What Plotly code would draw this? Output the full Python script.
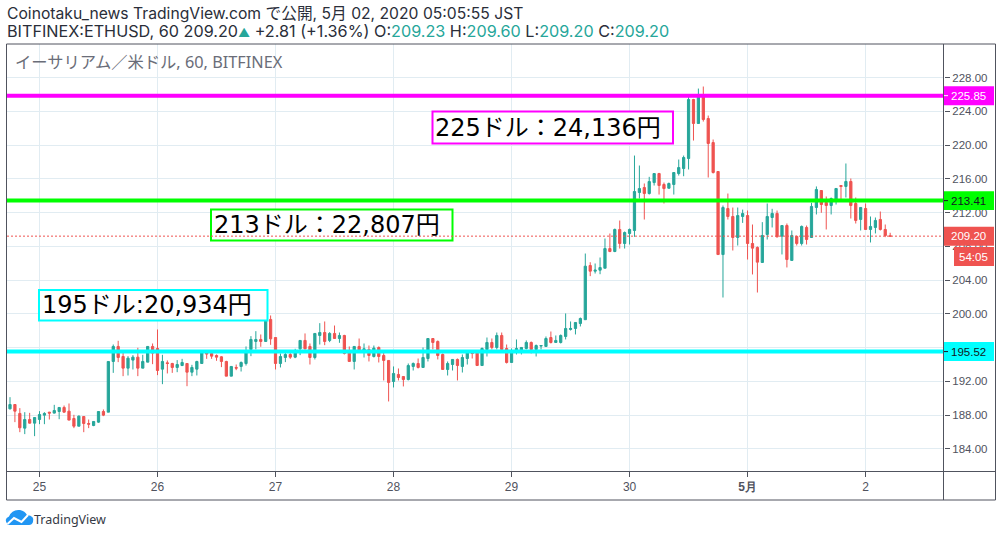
"""Hourly ETHUSD candles with three labelled price levels, TradingView snapshot style."""

import pandas as pd
import plotly.graph_objects as go

W, H = 1002, 537
LEFT, RIGHT, TOP, BOTTOM = 7, 944, 44, 471

opens = [
    188.74, 189.25, 188.19, 186.45, 187.47, 187.04,
    187.47, 187.99, 188.34, 188.23, 188.42, 188.9, 188.46, 187.59, 186.68, 187.83,
    187.0, 186.76, 187.16, 188.42, 188.34, 194.35, 196.13, 194.94, 193.56, 194.51,
    194.86, 193.56, 194.27, 196.13, 195.89, 193.44, 194.19, 194.11, 193.64, 193.87,
    194.11, 193.08, 193.44, 194.11, 195.41, 195.3, 195.06, 194.9, 194.35, 192.61,
    193.64, 193.76, 194.11, 195.77, 196.72, 196.96, 196.72, 199.33, 197.19, 194.11,
    194.82, 195.18, 194.86, 195.85, 196.84, 196.13, 194.82, 197.43, 197.78, 196.84,
    197.67, 197.07, 197.43, 195.53, 194.35, 196.13, 195.53, 195.77, 194.94, 196.01,
    195.06, 194.47, 191.98, 192.81, 192.57, 192.21, 193.76, 194.11, 193.64, 194.7,
    197.07, 196.72, 195.18, 193.4, 193.99, 194.59, 193.76, 194.7, 195.41, 195.41,
    193.87, 195.77, 196.6, 196.01, 197.43, 195.89, 194.23, 195.65, 195.53, 195.89,
    196.6, 195.77, 196.17, 196.13, 197.19, 196.6, 196.6, 197.31, 198.14, 198.26,
    198.85, 199.3, 205.72, 205.05, 205.17, 205.4, 207.73, 207.38, 209.99, 208.33,
    209.51, 209.87, 214.37, 214.96, 214.25, 215.55, 216.62, 215.32, 214.88, 215.32,
    216.62, 217.21, 218.4, 225.39, 222.55, 225.86, 223.14, 220.29, 216.86, 207.02,
    212.47, 211.53, 209.04, 211.53, 211.64, 208.33, 207.86, 206.08, 209.4, 211.41,
    211.89, 209.2, 210.46, 206.32, 209.16, 208.33, 210.23, 209.04, 212.6, 214.61,
    213.19, 212.83, 213.31, 215.2, 215.09, 215.68, 213.07, 211.18, 212.48, 209.99,
    210.23, 211.18, 209.99, 209.23,
]
highs = [
    190.12, 189.25, 188.82, 188.34, 188.26, 187.71,
    188.46, 188.34, 188.38, 189.21, 188.94, 189.13, 189.37, 188.03, 187.95, 187.87,
    187.47, 187.28, 188.42, 188.66, 194.35, 196.36, 196.8, 195.38, 194.98, 195.1,
    195.97, 195.14, 196.17, 196.48, 198.14, 195.14, 194.47, 194.19, 194.51, 194.66,
    194.11, 193.95, 194.43, 195.61, 195.41, 195.38, 195.18, 194.98, 194.43, 193.8,
    193.99, 194.35, 196.13, 197.35, 197.94, 197.55, 199.4, 199.8, 197.19, 195.3,
    195.38, 195.38, 195.85, 196.84, 197.67, 196.48, 197.67, 198.89, 199.09, 197.82,
    198.61, 197.78, 197.51, 196.13, 196.13, 197.07, 196.48, 196.24, 196.24, 196.13,
    195.53, 194.47, 193.76, 193.52, 192.57, 194.11, 194.23, 194.7, 196.01, 197.07,
    197.07, 196.84, 195.3, 194.35, 194.59, 194.7, 195.18, 195.53, 195.53, 195.41,
    196.01, 197.19, 197.07, 197.78, 197.78, 196.36, 195.89, 196.96, 196.01, 196.84,
    196.72, 196.36, 196.24, 197.31, 197.9, 197.43, 197.55, 200.04, 199.09, 198.97,
    199.56, 207.14, 206.11, 205.96, 206.67, 208.92, 209.51, 210.1, 211.05, 209.75,
    210.1, 218.75, 217.57, 215.44, 216.23, 216.62, 216.7, 215.55, 215.55, 216.74,
    218.28, 218.75, 225.79, 225.47, 226.69, 226.93, 223.49, 220.65, 216.86, 212.83,
    214.25, 212.59, 212.59, 212.35, 212.24, 210.58, 207.98, 210.86, 213.07, 212.44,
    212.24, 210.46, 210.7, 209.87, 209.28, 210.46, 210.46, 213.15, 215.09, 214.61,
    213.9, 213.78, 214.85, 215.2, 217.81, 216.03, 213.78, 212.6, 213.07, 211.53,
    211.41, 212.12, 210.58, 209.6,
]
lows = [
    188.66, 187.16, 185.97, 185.74, 187.0, 185.5,
    186.92, 186.92, 187.47, 188.19, 187.51, 188.3, 187.4, 186.45, 186.68, 185.97,
    186.45, 186.68, 187.08, 187.87, 188.34, 193.0, 194.27, 192.61, 192.69, 193.4,
    192.61, 193.56, 194.27, 194.03, 192.73, 191.66, 192.93, 193.0, 193.08, 193.8,
    191.42, 192.61, 192.69, 194.11, 194.66, 194.66, 194.43, 193.68, 192.61, 192.61,
    193.32, 193.16, 193.87, 194.98, 195.77, 196.09, 196.72, 196.32, 193.4, 193.64,
    194.27, 194.66, 194.74, 195.1, 195.77, 193.99, 194.59, 196.36, 196.28, 196.64,
    197.07, 196.56, 195.18, 194.35, 193.4, 195.38, 194.82, 194.35, 194.82, 194.23,
    192.1, 189.61, 191.27, 192.1, 191.39, 192.1, 193.28, 193.52, 193.64, 194.35,
    195.77, 194.59, 193.4, 192.69, 193.28, 192.1, 193.04, 193.99, 194.7, 193.87,
    193.87, 194.94, 195.77, 195.77, 195.77, 194.11, 194.23, 195.18, 195.18, 195.77,
    195.3, 194.94, 195.77, 196.13, 196.48, 196.6, 196.48, 196.96, 198.02, 197.55,
    198.5, 199.3, 204.46, 204.77, 204.69, 205.4, 207.3, 207.3, 207.73, 207.73,
    208.21, 209.12, 213.66, 211.17, 214.13, 215.2, 214.13, 213.07, 214.84, 214.13,
    216.38, 216.3, 217.1, 220.53, 222.55, 222.78, 216.15, 216.62, 207.02, 201.93,
    211.17, 207.5, 208.09, 210.77, 206.43, 204.66, 202.52, 206.06, 208.8, 210.23,
    209.04, 207.03, 205.49, 206.32, 208.09, 208.09, 208.21, 209.04, 211.77, 211.97,
    209.99, 211.77, 212.95, 213.31, 213.78, 211.29, 210.7, 209.87, 209.99, 208.45,
    209.52, 209.87, 209.08, 209.2,
]
closes = [
    189.25, 188.46, 186.49, 187.47, 187.04, 187.71,
    188.07, 188.19, 188.23, 188.54, 188.9, 188.34, 187.4, 186.68, 187.87, 187.0,
    186.92, 187.24, 188.42, 187.99, 194.35, 196.13, 194.82, 193.56, 194.74, 194.86,
    193.56, 194.35, 196.13, 195.34, 193.28, 194.35, 194.11, 193.64, 193.99, 194.23,
    193.08, 193.64, 194.35, 195.41, 195.22, 194.98, 194.86, 194.35, 192.61, 193.76,
    193.56, 194.23, 195.41, 196.96, 196.96, 196.72, 199.4, 197.03, 194.11, 194.94,
    195.18, 194.86, 195.38, 196.84, 195.85, 194.82, 197.67, 197.78, 196.72, 197.67,
    197.07, 197.43, 195.3, 194.35, 196.13, 195.53, 195.85, 195.06, 195.93, 194.94,
    194.47, 191.86, 192.93, 192.45, 192.21, 193.87, 194.11, 193.64, 194.82, 197.07,
    196.6, 195.06, 193.4, 194.11, 194.59, 193.87, 194.82, 195.41, 195.3, 193.87,
    195.89, 196.6, 196.01, 197.43, 195.77, 194.23, 195.41, 195.89, 196.01, 196.6,
    195.77, 196.24, 196.24, 197.07, 196.6, 196.84, 197.43, 198.26, 198.26, 198.97,
    199.44, 205.64, 205.05, 205.17, 205.48, 207.73, 207.38, 209.99, 208.33, 209.63,
    209.99, 214.49, 214.84, 214.25, 215.67, 216.62, 215.2, 214.84, 215.44, 216.74,
    217.33, 218.52, 225.39, 222.55, 225.75, 223.02, 220.18, 216.74, 207.02, 212.59,
    211.53, 209.04, 211.64, 211.88, 208.33, 207.78, 206.12, 209.28, 211.53, 211.89,
    209.12, 210.46, 206.43, 209.28, 208.33, 210.35, 208.8, 212.72, 214.73, 212.95,
    212.83, 213.66, 214.85, 215.09, 215.68, 212.83, 211.06, 212.6, 209.99, 210.35,
    211.06, 209.99, 209.28, 209.2,
]
assert len(opens) == len(highs) == len(lows) == len(closes) == 180

hours = pd.date_range("2020-04-24 18:00", periods=len(opens), freq="h")

tick_days = ["2020-04-25", "2020-04-26", "2020-04-27", "2020-04-28",
             "2020-04-29", "2020-04-30", "2020-05-01", "2020-05-02"]
tick_day_labels = ["25", "26", "27", "28", "29", "30", "<b>5月</b>", "2"]
price_ticks = [184, 188, 192, 196, 200, 204, 208, 212, 216, 220, 224, 228]

level_values = [225.85, 213.41, 195.52]
level_colors = ["#ff00ff", "#00ff00", "#00ffff"]
level_text_colors = ["#ffffff", "#131722", "#131722"]
last_price = 209.20
countdown = "54:05"

note_texts = ["225ドル：24,136円", "213ドル：22,807円", "195ドル:20,934円"]
note_colors = ["#ff00ff", "#00ff00", "#00ffff"]

UP = "#26a69a"
DOWN = "#ef5350"
AXIS = "#50535e"
GRID = "#e1ecf2"
Y_PER_PX = (228 - 184) / 371.4  # price units per pixel


def px_x(x):
    return (x - LEFT) / (RIGHT - LEFT)


def px_y(y):
    return (BOTTOM - y) / (BOTTOM - TOP)


def rect(x0, y0, x1, y1, fill, line=None, width=0):
    return dict(type="rect", xref="paper", yref="paper",
                x0=px_x(x0), x1=px_x(x1), y0=px_y(y0), y1=px_y(y1),
                fillcolor=fill, line=dict(color=line or fill, width=width))


def frame_line(x0, y0, x1, y1):
    return dict(type="line", xref="paper", yref="paper",
                x0=px_x(x0), x1=px_x(x1), y0=px_y(y0), y1=px_y(y1),
                line=dict(color=AXIS, width=1))


def text_at(x, y, text, size, color, family="Liberation Sans", anchor="left"):
    return dict(xref="paper", yref="paper", x=px_x(x), y=px_y(y), text=text, showarrow=False,
                xanchor=anchor, yanchor="middle", align="left",
                font=dict(family=family, size=size, color=color))


fig = go.Figure(go.Candlestick(
    x=hours, open=opens, high=highs, low=lows, close=closes,
    increasing=dict(line=dict(color=UP, width=1), fillcolor=UP),
    decreasing=dict(line=dict(color=DOWN, width=1), fillcolor=DOWN),
    whiskerwidth=0, hoverinfo="skip",
))

shapes = []
annotations = []

# note boxes go first so the price line still shows through them
note_boxes = [(432.5, 111.5, 673, 143.5), (211, 209.5, 452.5, 240.5), (39, 290, 267.5, 320.5)]
note_text_x = [433, 212, 40]
for text, color, (x0, y0, x1, y1), tx in zip(note_texts, note_colors, note_boxes, note_text_x):
    shapes.append(rect(x0, y0, x1, y1, "#ffffff", color, 2))
    annotations.append(text_at(tx, (y0 + y1) / 2, text, 24, "#000000",
                               "DejaVu Sans, Noto Sans CJK JP"))

# level lines and their price badges
for value, color, text_color in zip(level_values, level_colors, level_text_colors):
    shapes.append(dict(type="line", xref="paper", yref="y", x0=0, x1=1, y0=value, y1=value,
                       line=dict(color=color, width=4)))
    half = 9.5 * Y_PER_PX
    shapes.append(dict(type="rect", xref="paper", yref="y", x0=1, x1=px_x(994),
                       y0=value - half, y1=value + half,
                       fillcolor=color, line=dict(color=color, width=0)))
    shapes.append(dict(type="line", xref="paper", yref="y", x0=1, x1=px_x(948), y0=value, y1=value,
                       line=dict(color=text_color, width=1)))
    annotations.append(dict(xref="paper", yref="y", x=px_x(968.5), y=value, text=f"{value:.2f}",
                            showarrow=False, xanchor="center", yanchor="middle",
                            font=dict(family="Liberation Sans", size=11.5, color=text_color)))

# last price
shapes.append(dict(type="line", xref="paper", yref="y", x0=0, x1=1, y0=last_price, y1=last_price,
                   line=dict(color=DOWN, width=1, dash="2px,2px")))
half = 9.5 * Y_PER_PX
shapes.append(dict(type="rect", xref="paper", yref="y", x0=1, x1=px_x(994),
                   y0=last_price - half, y1=last_price + half,
                   fillcolor=DOWN, line=dict(color=DOWN, width=0)))
annotations.append(dict(xref="paper", yref="y", x=px_x(968.5), y=last_price, text=f"{last_price:.2f}",
                        showarrow=False, xanchor="center", yanchor="middle",
                        font=dict(family="Liberation Sans", size=11.5, color="#ffffff")))
shapes.append(rect(954, 247, 994, 266, DOWN))
annotations.append(text_at(974, 256.5, countdown, 11.5, "#ffffff", anchor="center"))

# outer frame
shapes += [
    frame_line(6.5, 44, 995.5, 44),
    frame_line(6.5, 44, 6.5, 500),
    frame_line(6.5, 500, 995.5, 500),
    frame_line(995.5, 44, 995.5, 500),
    frame_line(943.5, 44, 943.5, 500),
    frame_line(6.5, 471.5, 995.5, 471.5),
]

# TradingView cloud mark
cloud = "M {} {} Q {} {} {} {} Q {} {} {} {} Q {} {} {} {} Q {} {} {} {} Q {} {} {} {} Z".format(
    px_x(8), px_y(525),
    px_x(3), px_y(519), px_x(9), px_y(516.5),
    px_x(12), px_y(509), px_x(20), px_y(510),
    px_x(25), px_y(511), px_x(27), px_y(515),
    px_x(35), px_y(516), px_x(33), px_y(522),
    px_x(32), px_y(525), px_x(29), px_y(525),
)
shapes.append(dict(type="path", xref="paper", yref="paper", path=cloud,
                   fillcolor="#2196f3", line=dict(color="#2196f3", width=0)))
zigzag = "M {} {} L {} {} L {} {} L {} {}".format(
    px_x(7.5), px_y(524), px_x(14), px_y(518), px_x(21.5), px_y(522), px_x(28), px_y(515))
shapes.append(dict(type="path", xref="paper", yref="paper", path=zigzag,
                   line=dict(color="#ffffff", width=2)))
annotations.append(text_at(32, 519, "TradingView", 12.5, "#363a45", "Noto Sans"))

# header lines and chart title
annotations.append(text_at(4.5, 14, "Coinotaku_news TradingView.com で公開, 5月 02, 2020 05:05:55 JST",
                           15.7, "#2a2e39", "Inter, Noto Sans CJK JP"))
val = '<span style="color:#26a69a">{}</span>'
line2 = ("BITFINEX:ETHUSD, 60 209.20" + '<span style="color:#26a69a;font-size:12px">▲</span>'
         + " +2.81 (+1.36%) O:" + val.format("209.23") + " H:" + val.format("209.60")
         + " L:" + val.format("209.20") + " C:" + val.format("209.20"))
annotations.append(text_at(4.5, 31, line2, 16.2, "#2a2e39", "Inter, Noto Sans CJK JP"))
annotations.append(text_at(13, 62, "イーサリアム／米ドル, 60, BITFINEX", 16.3, "#6a6d78",
                           "Noto Sans, Noto Sans CJK JP"))

fig.update_layout(
    width=W,
    height=H,
    margin=dict(l=LEFT, r=W - RIGHT, t=TOP, b=H - BOTTOM, pad=0),
    paper_bgcolor="white",
    plot_bgcolor="white",
    showlegend=False,
    boxgap=0.35,
    shapes=shapes,
    annotations=annotations,
    font=dict(family="Liberation Sans", color=AXIS),
    xaxis=dict(
        type="date",
        range=["2020-04-24 17:23:24", "2020-05-02 15:57:00"],
        rangeslider=dict(visible=False),
        tickvals=tick_days,
        ticktext=tick_day_labels,
        ticks="outside", ticklen=5, tickcolor=AXIS,
        tickfont=dict(size=12, color=AXIS),
        showgrid=True, gridcolor=GRID, gridwidth=1,
        showline=False, zeroline=False,
    ),
    yaxis=dict(
        side="right",
        range=[181.37, 231.97],
        tickvals=price_ticks,
        tickformat=".2f",
        ticks="outside", ticklen=5, tickcolor=AXIS,
        tickfont=dict(size=11.5, color=AXIS),
        showgrid=True, gridcolor=GRID, gridwidth=1,
        showline=False, zeroline=False,
    ),
)

fig.write_html("out.html", config=dict(displayModeBar=False),
               post_script="document.body.style.margin='0';document.body.style.overflow='hidden';")
